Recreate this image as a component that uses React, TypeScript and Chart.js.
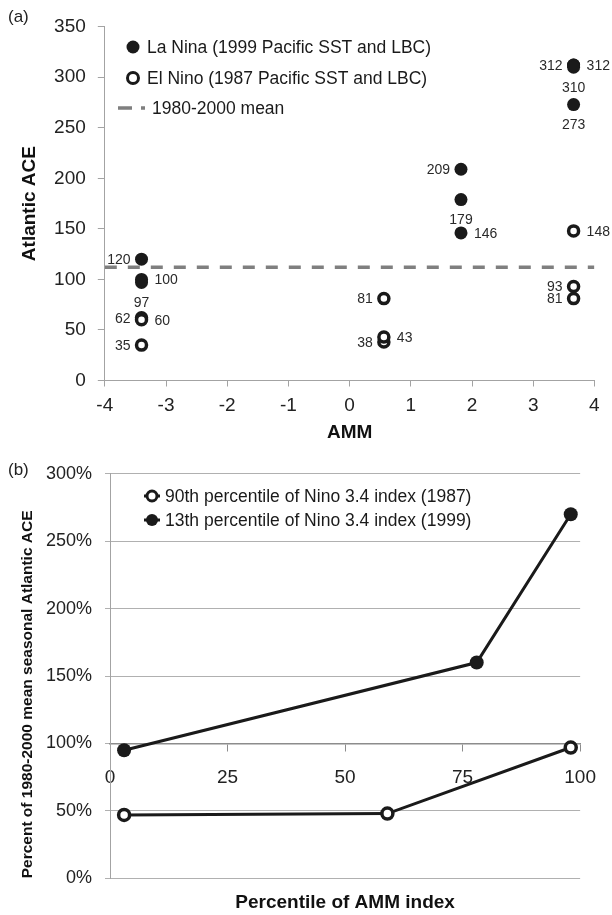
import React, { useEffect, useRef } from "react";
import { Chart, registerables } from "chart.js";

Chart.register(...registerables);

const FONT = "'Liberation Sans', Arial, sans-serif";

// ---------- Panel (a) data ----------
const ammMin = -4;
const ammMax = 4;
const aceMax = 350;
const laNinaAmm = [-3.4, -3.4, -3.4, 1.82, 1.82, 1.82, 3.66, 3.66, 3.66, 3.66];
const laNinaAce = [120, 100, 97, 209, 179, 146, 312, 312, 310, 273];
const laNinaLabelSide = ["left", "right", "below", "left", "below", "right", "left", "right", "below", "below"];
const elNinoAmm = [-3.4, -3.4, -3.4, 0.56, 0.56, 0.56, 3.66, 3.66, 3.66];
const elNinoAce = [62, 60, 35, 81, 38, 43, 148, 93, 81];
const elNinoLabelSide = ["left", "right", "left", "left", "left", "right", "right", "left", "left"];
const meanAce = 112;
const legendA = ["La Nina (1999 Pacific SST and LBC)", "El Nino (1987 Pacific SST and LBC)", "1980-2000 mean"];

// ---------- Panel (b) data ----------
const pctAmmMin = 0;
const pctAmmMax = 100;
const pctMax = 300;
const elNinoPctAmm = [3, 59, 98];
const elNinoPctAce = [47, 48, 97];
const laNinaPctAmm = [3, 78, 98];
const laNinaPctAce = [95, 160, 270];
const legendB = ["90th percentile of Nino 3.4 index (1987)", "13th percentile of Nino 3.4 index (1999)"];

const INK = "#1a1a1a";
const AXIS = "#a3a3a3";

const pointLabelPlugin = {
  id: "pointLabels",
  afterDatasetsDraw(chart: any) {
    const ctx = chart.ctx;
    ctx.save();
    ctx.font = `14px ${FONT}`;
    ctx.fillStyle = "#2a2a2a";
    chart.data.datasets.forEach((ds: any, i: number) => {
      const sides = ds.labelSides;
      if (!sides) return;
      const meta = chart.getDatasetMeta(i);
      meta.data.forEach((el: any, j: number) => {
        const text = String(ds.data[j].y);
        let x = el.x;
        let y = el.y;
        const side = sides[j];
        ctx.textBaseline = "middle";
        if (side === "left") {
          ctx.textAlign = "right";
          x -= 11;
        } else if (side === "right") {
          ctx.textAlign = "left";
          x += 13;
        } else {
          ctx.textAlign = "center";
          y += 20;
        }
        ctx.fillText(text, x, y + 1);
      });
    });
    ctx.restore();
  },
};

const insideLegendPlugin = {
  id: "insideLegend",
  afterDraw(chart: any) {
    const o = chart.options.plugins.insideLegend;
    if (!o) return;
    const ctx = chart.ctx;
    ctx.save();
    ctx.font = `${o.fontSize}px ${FONT}`;
    ctx.textBaseline = "middle";
    ctx.textAlign = "left";
    chart.data.datasets.forEach((ds: any, i: number) => {
      const y = o.rows[i];
      if (y === undefined) return;
      const mx = o.markerX;
      if (o.kind === "scatter" && ds.pointRadius === 0) {
        ctx.strokeStyle = ds.borderColor;
        ctx.lineWidth = ds.borderWidth;
        ctx.setLineDash([14, 9]);
        ctx.beginPath();
        ctx.moveTo(mx - 15, y);
        ctx.lineTo(mx + 12, y);
        ctx.stroke();
        ctx.setLineDash([]);
        ctx.fillStyle = INK;
        ctx.fillText(ds.label, mx + 19, y + 1);
        return;
      }
      if (o.kind === "line") {
        ctx.strokeStyle = ds.borderColor;
        ctx.lineWidth = 3;
        ctx.beginPath();
        ctx.moveTo(mx - 8, y);
        ctx.lineTo(mx + 8, y);
        ctx.stroke();
      }
      const filled = ds.pointBorderWidth === 0;
      const r = filled ? o.markerR + 1 : o.markerR;
      ctx.beginPath();
      ctx.arc(mx, y, r, 0, Math.PI * 2);
      ctx.fillStyle = ds.pointBackgroundColor;
      ctx.fill();
      if (!filled) {
        ctx.lineWidth = 3;
        ctx.strokeStyle = ds.pointBorderColor;
        ctx.stroke();
      }
      ctx.fillStyle = INK;
      ctx.fillText(ds.label, o.textX, y + 1);
    });
    ctx.restore();
  },
};

function PanelA() {
  const ref = useRef<HTMLCanvasElement>(null);
  useEffect(() => {
    if (!ref.current) return;
    const chart = new Chart(ref.current, {
      type: "scatter",
      data: {
        datasets: [
          {
            label: legendA[0],
            data: laNinaAmm.map((x, i) => ({ x, y: laNinaAce[i] })),
            pointRadius: 6.5,
            pointBackgroundColor: INK,
            pointBorderColor: INK,
            pointBorderWidth: 0,
            labelSides: laNinaLabelSide,
            order: 1,
          } as any,
          {
            label: legendA[1],
            data: elNinoAmm.map((x, i) => ({ x, y: elNinoAce[i] })),
            pointRadius: 5,
            pointBackgroundColor: "#ffffff",
            pointBorderColor: INK,
            pointBorderWidth: 3.5,
            labelSides: elNinoLabelSide,
            order: 1,
          } as any,
          {
            type: "line",
            label: legendA[2],
            data: [
              { x: ammMin, y: meanAce },
              { x: ammMax, y: meanAce },
            ],
            borderColor: "#7f7f7f",
            borderWidth: 3.5,
            borderDash: [12, 11],
            pointRadius: 0,
            order: 3,
          } as any,
        ],
      },
      options: {
        animation: false,
        responsive: false,
        maintainAspectRatio: false,
        layout: { padding: { top: 26.7, right: 17.6, left: 0, bottom: 0 } },
        plugins: {
          legend: { display: false },
          tooltip: { enabled: false },
          insideLegend: { kind: "scatter", rows: [47, 78, 108], markerX: 133, markerR: 5.5, textX: 147, fontSize: 17.5 },
        } as any,
        scales: {
          x: {
            type: "linear",
            min: ammMin,
            max: ammMax,
            ticks: { stepSize: 1, color: "#222", font: { family: FONT, size: 19 }, padding: 8 },
            grid: { drawOnChartArea: false, drawTicks: true, tickLength: 6, color: AXIS },
            border: { color: AXIS, width: 1 },
            title: {
              display: true,
              text: "AMM",
              color: "#111",
              font: { family: FONT, size: 19, weight: "bold" },
              padding: { top: 0, bottom: 6 },
            },
            afterFit: (s: any) => {
              s.height = 69.5;
            },
          },
          y: {
            type: "linear",
            min: 0,
            max: aceMax,
            ticks: { stepSize: 50, color: "#222", font: { family: FONT, size: 19 }, padding: 12 },
            grid: { drawOnChartArea: false, drawTicks: true, tickLength: 7, color: AXIS },
            border: { color: AXIS, width: 1 },
            title: {
              display: true,
              text: "Atlantic ACE",
              color: "#111",
              font: { family: FONT, size: 19, weight: "bold" },
              padding: { top: 18, bottom: 0 },
            },
            afterFit: (s: any) => {
              s.width = 104.8;
            },
          },
        } as any,
      },
      plugins: [pointLabelPlugin, insideLegendPlugin],
    });
    return () => chart.destroy();
  }, []);
  return <canvas ref={ref} width={612} height={450} style={{ display: "block" }} />;
}

function PanelB() {
  const ref = useRef<HTMLCanvasElement>(null);
  useEffect(() => {
    if (!ref.current) return;
    const chart = new Chart(ref.current, {
      type: "line",
      data: {
        datasets: [
          {
            label: legendB[0],
            data: elNinoPctAmm.map((x, i) => ({ x, y: elNinoPctAce[i] })),
            borderColor: INK,
            borderWidth: 3,
            pointRadius: 5.5,
            pointBackgroundColor: "#ffffff",
            pointBorderColor: INK,
            pointBorderWidth: 3.5,
            xAxisID: "x",
          } as any,
          {
            label: legendB[1],
            data: laNinaPctAmm.map((x, i) => ({ x, y: laNinaPctAce[i] })),
            borderColor: INK,
            borderWidth: 3,
            pointRadius: 7,
            pointBackgroundColor: INK,
            pointBorderColor: INK,
            pointBorderWidth: 0,
            xAxisID: "x",
          } as any,
        ],
      },
      options: {
        animation: false,
        responsive: false,
        maintainAspectRatio: false,
        layout: { padding: { top: 23.3, right: 20.3, left: 0, bottom: 0 } },
        plugins: {
          legend: { display: false },
          tooltip: { enabled: false },
          insideLegend: { kind: "line", rows: [46, 70], markerX: 152, markerR: 5, textX: 165, fontSize: 17.5 },
        } as any,
        scales: {
          x: {
            type: "linear",
            axis: "x",
            position: { y: 100 },
            min: pctAmmMin,
            max: pctAmmMax,
            ticks: { stepSize: 25, color: "#222", font: { family: FONT, size: 19 }, padding: 16 },
            grid: { drawOnChartArea: false, drawTicks: true, tickLength: 7, color: "#8c8c8c" },
            border: { color: "#8c8c8c", width: 1.5 },
          },
          xt: {
            type: "linear",
            axis: "x",
            position: "bottom",
            ticks: { display: false },
            grid: { display: false },
            border: { display: false },
            title: {
              display: true,
              text: "Percentile of AMM index",
              color: "#111",
              font: { family: FONT, size: 19, weight: "bold" },
              padding: { top: 0, bottom: 1 },
            },
            afterFit: (s: any) => {
              s.height = 36.7;
            },
          },
          y: {
            type: "linear",
            min: 0,
            max: pctMax,
            ticks: {
              stepSize: 50,
              color: "#222",
              font: { family: FONT, size: 18 },
              padding: 13,
              callback: (v: any) => v + "%",
            },
            grid: { drawOnChartArea: true, drawTicks: true, tickLength: 5, color: "#b0b0b0" },
            border: { color: AXIS, width: 1 },
            title: {
              display: true,
              text: "Percent of 1980-2000 mean seasonal Atlantic ACE",
              color: "#111",
              align: "start",
              font: { family: FONT, size: 15.5, weight: "bold" },
              padding: { top: 18.5, bottom: 0 },
            },
            afterFit: (s: any) => {
              s.width = 110;
            },
          },
        } as any,
      },
      plugins: [insideLegendPlugin],
    });
    return () => chart.destroy();
  }, []);
  return <canvas ref={ref} width={612} height={465} style={{ display: "block" }} />;
}

export default function App() {
  const tag: React.CSSProperties = {
    position: "absolute",
    left: 8,
    fontFamily: FONT,
    fontSize: 17,
    color: "#222",
    lineHeight: "20px",
  };
  return (
    <div style={{ position: "absolute", left: 0, top: 0, width: 612, height: 915, background: "#fff" }}>
      <div style={{ position: "absolute", left: 0, top: 0 }}>
        <PanelA />
      </div>
      <div style={{ position: "absolute", left: 0, top: 450 }}>
        <PanelB />
      </div>
      <span style={{ ...tag, top: 7 }}>(a)</span>
      <span style={{ ...tag, top: 460 }}>(b)</span>
    </div>
  );
}
